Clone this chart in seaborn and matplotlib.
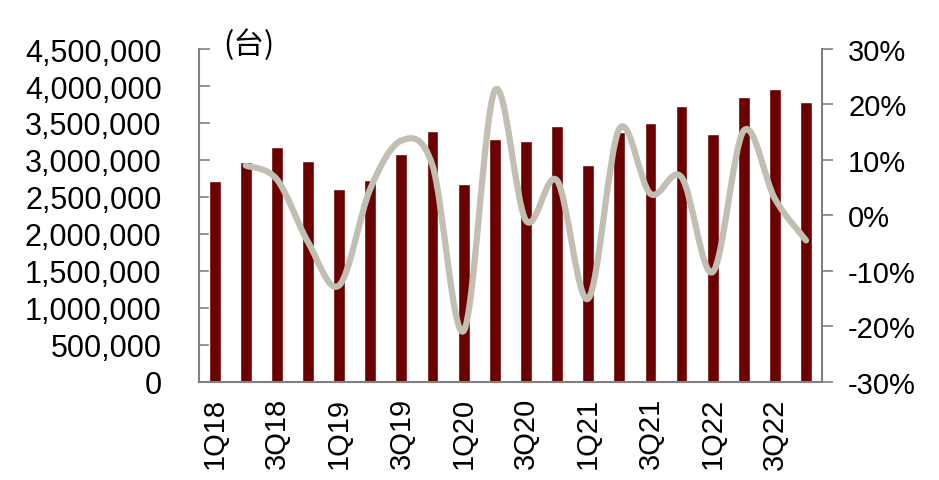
import numpy as np
import pandas as pd
import seaborn as sns
import matplotlib.pyplot as plt
from matplotlib.path import Path
from matplotlib.patches import PathPatch
from matplotlib.ticker import FuncFormatter, PercentFormatter

# Data
quarters = ['1Q18', '2Q18', '3Q18', '4Q18',
            '1Q19', '2Q19', '3Q19', '4Q19',
            '1Q20', '2Q20', '3Q20', '4Q20',
            '1Q21', '2Q21', '3Q21', '4Q21',
            '1Q22', '2Q22', '3Q22', '4Q22']
units = [2720000, 2970000, 3180000, 2990000,
         2610000, 2730000, 3080000, 3390000,
         2680000, 3280000, 3260000, 3460000,
         2930000, 3380000, 3500000, 3730000,
         3350000, 3850000, 3960000, 3790000]
# growth rate (%) starts from 2Q18
growth = [None, 9.0, 6.5, -4.8,
          -12.6, 4.8, 13.5, 9.0,
          -20.8, 22.5, -0.9, 6.3,
          -15.0, 15.6, 3.9, 6.9,
          -10.2, 15.3, 3.0, -4.5]

bar_color = '#6B0000'
line_color = '#C2BEB2'
axis_grey = '#808080'

df = pd.DataFrame({'quarter': quarters, 'units': units, 'growth': growth})

sns.set_style('white')
plt.rcParams['font.family'] = ['Liberation Sans', 'DejaVu Sans']
plt.rcParams['axes.unicode_minus'] = False
plt.rcParams['text.color'] = 'black'
plt.rcParams['xtick.labelcolor'] = 'black'
plt.rcParams['ytick.labelcolor'] = 'black'

fig = plt.figure(figsize=(9.39, 4.81), dpi=100)
ax = fig.add_axes([0.212, 0.204, 0.663, 0.692])

sns.barplot(data=df, x='quarter', y='units', color=bar_color, width=0.38,
            saturation=1, ax=ax)
ax.set_xlim(-0.5, len(quarters) - 0.5)
ax.set_ylim(0, 4500000)
ax.set_yticks(np.arange(0, 4500001, 500000))
ax.yaxis.set_major_formatter(FuncFormatter(lambda v, p: f'{int(v):,}'))
ax.set_xlabel('')
ax.set_ylabel('')

# x ticks: labels every other quarter, tick marks on category boundaries
ax.set_xticks(range(0, len(quarters), 2))
ax.set_xticklabels(quarters[::2], rotation=90)
ax.set_xticks(np.arange(-0.5, len(quarters), 1), minor=True)
ax.tick_params(axis='x', which='major', length=0, pad=11, labelsize=21,
               labelcolor='black')
ax.tick_params(axis='x', which='minor', length=6, width=1.2, color=axis_grey,
               direction='out')
ax.tick_params(axis='y', direction='in', length=8, width=1.2, color=axis_grey,
               pad=27, labelsize=22, labelcolor='black')

for s in ['top', 'right']:
    ax.spines[s].set_visible(False)
for s in ['left', 'bottom']:
    ax.spines[s].set_color(axis_grey)
    ax.spines[s].set_linewidth(1.5)

# secondary axis: growth line (smoothed like the original)
ax2 = ax.twinx()
ax2.set_ylim(-30, 30)
ax2.set_yticks(range(-30, 31, 10))
ax2.yaxis.set_major_formatter(PercentFormatter(decimals=0))
ax2.tick_params(axis='y', direction='out', length=8, width=1.2, color=axis_grey,
                pad=11, labelsize=21, labelcolor='black')
for s in ['top', 'left', 'bottom']:
    ax2.spines[s].set_visible(False)
ax2.spines['right'].set_color(axis_grey)
ax2.spines['right'].set_linewidth(1.5)
ax2.grid(False)

g = df.dropna(subset=['growth'])
pts = np.column_stack([g.index.values.astype(float), g['growth'].values.astype(float)])
verts = [pts[0]]
codes = [Path.MOVETO]
n = len(pts)
for i in range(n - 1):
    p_prev = pts[max(i - 1, 0)]
    p0 = pts[i]
    p1 = pts[i + 1]
    p_next = pts[min(i + 2, n - 1)]
    verts += [p0 + (p1 - p_prev) / 6, p1 - (p_next - p0) / 6, p1]
    codes += [Path.CURVE4] * 3
ax2.add_patch(PathPatch(Path(verts, codes), facecolor='none', edgecolor=line_color,
                        lw=4.5, capstyle='round', joinstyle='round'))

fig.text(0.238, 0.906, '(台)', fontsize=22, va='center', ha='left', color='black',
         family=['Noto Sans CJK SC', 'DejaVu Sans'])

plt.savefig('out.png', dpi=100)
